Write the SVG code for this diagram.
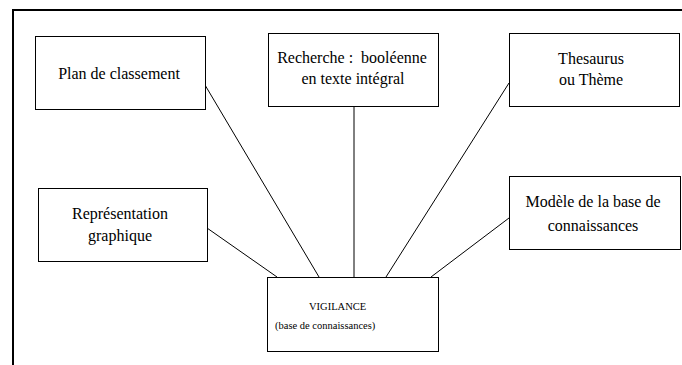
<svg xmlns="http://www.w3.org/2000/svg" width="682" height="365" viewBox="0 0 682 365">
  <style>
    .box { fill: #ffffff; stroke: #000000; stroke-width: 1; }
    text { font-family: 'Liberation Serif', 'Times New Roman', Tinos, 'DejaVu Serif', serif; fill: #000000; }
    .lbl { font-size: 16px; text-anchor: middle; }
    .small { font-size: 10.5px; }
    .link { stroke: #000000; stroke-width: 1; fill: none; }
    .frame { stroke: #000000; stroke-width: 2; fill: none; }
  </style>
  <rect width="682" height="365" fill="#ffffff"/>
  <!-- page frame: top and left rules -->
  <path class="frame" d="M13 365 V10 H682"/>

  <g id="connectors">
    <line class="link" x1="205" y1="85" x2="319" y2="277"/>
    <line class="link" x1="354" y1="107" x2="354" y2="277"/>
    <line class="link" x1="509" y1="83" x2="386" y2="277"/>
    <line class="link" x1="207" y1="228" x2="277" y2="277"/>
    <line class="link" x1="509" y1="218" x2="431" y2="277"/>
  </g>

  <g id="plan">
    <rect class="box" x="35.5" y="36.5" width="170" height="73"/>
    <text class="lbl" x="119" y="79">Plan de classement</text>
  </g>

  <g id="recherche">
    <rect class="box" x="268.5" y="33.5" width="170" height="73"/>
    <text class="lbl" x="352" y="63" xml:space="preserve">Recherche :  booléenne</text>
    <text class="lbl" x="353" y="84">en texte intégral</text>
  </g>

  <g id="thesaurus">
    <rect class="box" x="509.5" y="33.5" width="170" height="73"/>
    <text class="lbl" x="591" y="64">Thesaurus</text>
    <text class="lbl" x="591" y="85">ou Thème</text>
  </g>

  <g id="representation">
    <rect class="box" x="38.5" y="188.5" width="169" height="73"/>
    <text class="lbl" x="120" y="219">Représentation</text>
    <text class="lbl" x="120" y="241">graphique</text>
  </g>

  <g id="modele">
    <rect class="box" x="509.5" y="176.5" width="171" height="73"/>
    <text class="lbl" x="593" y="207">Modèle de la base de</text>
    <text class="lbl" x="593" y="231">connaissances</text>
  </g>

  <g id="vigilance">
    <rect class="box" x="267.5" y="277.5" width="171" height="74"/>
    <text class="small" x="309" y="310">VIGILANCE</text>
    <text class="small" x="275" y="329">(base de connaissances)</text>
  </g>
</svg>
